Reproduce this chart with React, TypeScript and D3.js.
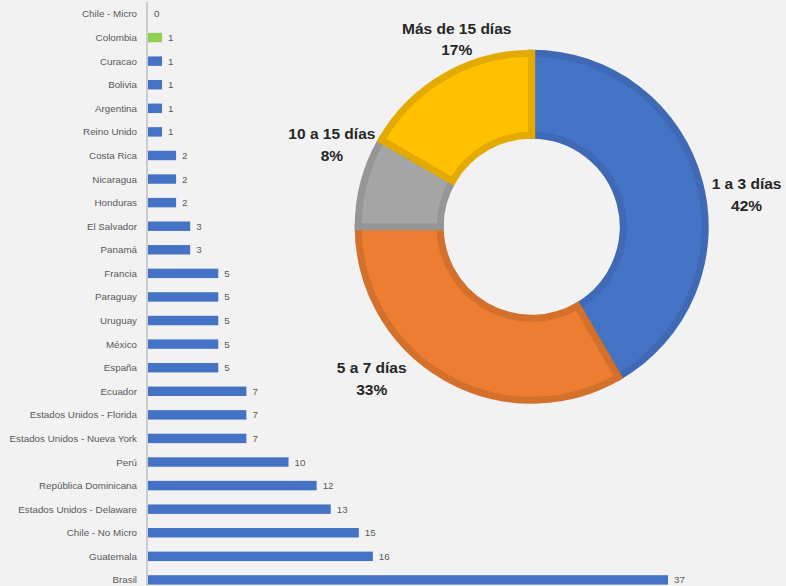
import React from "react";
import * as d3 from "d3";

const categories = [
  "Chile - Micro", "Colombia", "Curacao", "Bolivia", "Argentina", "Reino Unido",
  "Costa Rica", "Nicaragua", "Honduras", "El Salvador", "Panamá", "Francia",
  "Paraguay", "Uruguay", "México", "España", "Ecuador", "Estados Unidos - Florida",
  "Estados Unidos - Nueva York", "Perú", "República Dominicana",
  "Estados Unidos - Delaware", "Chile - No Micro", "Guatemala", "Brasil",
];
const values = [0, 1, 1, 1, 1, 1, 2, 2, 2, 3, 3, 5, 5, 5, 5, 5, 7, 7, 7, 10, 12, 13, 15, 16, 37];
const highlighted = ["Colombia"];

const pieLabels = ["1 a 3 días", "5 a 7 días", "10 a 15 días", "Más de 15 días"];
const pieValues = [10, 8, 2, 4];

const W = 786;
const H = 586;
const BG = "#F2F2F2";
const pieFill = ["#4472C4", "#ED7D31", "#A5A5A5", "#FFC000"];
const pieStroke = ["#3F69B4", "#D2702C", "#969696", "#E3AB02"];
// label placement nudges (layout only), relative to centroid at label radius
const labelNudge: [number, number][] = [
  [12, 20],
  [-55, -32],
  [3, -30],
  [30, -8],
];

export default function App() {
  const x = d3.scaleLinear().domain([0, 37]).range([148, 668]);
  const y = d3.scaleBand<string>().domain(categories).range([2.2, 591.7]).paddingInner(0.6).paddingOuter(0.3);

  const cx = 531.7;
  const cy = 226.7;
  const pie = d3.pie<number>().sort(null).value((d) => d)(pieValues);
  const arc = d3.arc<d3.PieArcDatum<number>>().innerRadius(91.5).outerRadius(173.5);
  const labelArc = d3.arc<d3.PieArcDatum<number>>().innerRadius(210).outerRadius(210);

  return (
    <svg width={W} height={H} style={{ position: "fixed", left: 0, top: 0, background: BG }}>
      <rect width={W} height={H} fill={BG} />
      <g fontFamily="'Liberation Sans', Arial, sans-serif" fontSize={9.8} fill="#595959">
        {categories.map((c, i) => {
          const yc = (y(c) as number) + y.bandwidth() / 2;
          return (
            <g key={c}>
              <text x={137} y={yc} textAnchor="end" dominantBaseline="central">{c}</text>
              {values[i] > 0 && (
                <rect
                  x={x(0)}
                  y={y(c)}
                  width={x(values[i]) - x(0)}
                  height={y.bandwidth()}
                  fill={highlighted.includes(c) ? "#92D050" : "#4472C4"}
                />
              )}
              <text x={x(values[i]) + 6} y={yc} dominantBaseline="central">{values[i]}</text>
            </g>
          );
        })}
      </g>
      <line x1={147} x2={147} y1={2} y2={H} stroke="#BFBFBF" strokeWidth={1.5} />
      <g transform={`translate(${cx},${cy})`}>
        {pie.map((p, i) => (
          <path key={i} d={arc(p) as string} fill={pieFill[i]} stroke={pieStroke[i]} strokeWidth={7} strokeLinejoin="miter" />
        ))}
        {pie.map((p, i) => {
          const [lx, ly] = labelArc.centroid(p);
          const px = lx + labelNudge[i][0];
          const py = ly + labelNudge[i][1];
          const pct = Math.round((pieValues[i] / d3.sum(pieValues)) * 100) + "%";
          return (
            <text key={"l" + i} x={px} y={py} textAnchor="middle" fontFamily="'Liberation Sans', Arial, sans-serif" fontWeight="bold" fontSize={15.5} fill="#262626">
              <tspan x={px} dy="-0.2em">{pieLabels[i]}</tspan>
              <tspan x={px} dy="1.4em">{pct}</tspan>
            </text>
          );
        })}
      </g>
    </svg>
  );
}
